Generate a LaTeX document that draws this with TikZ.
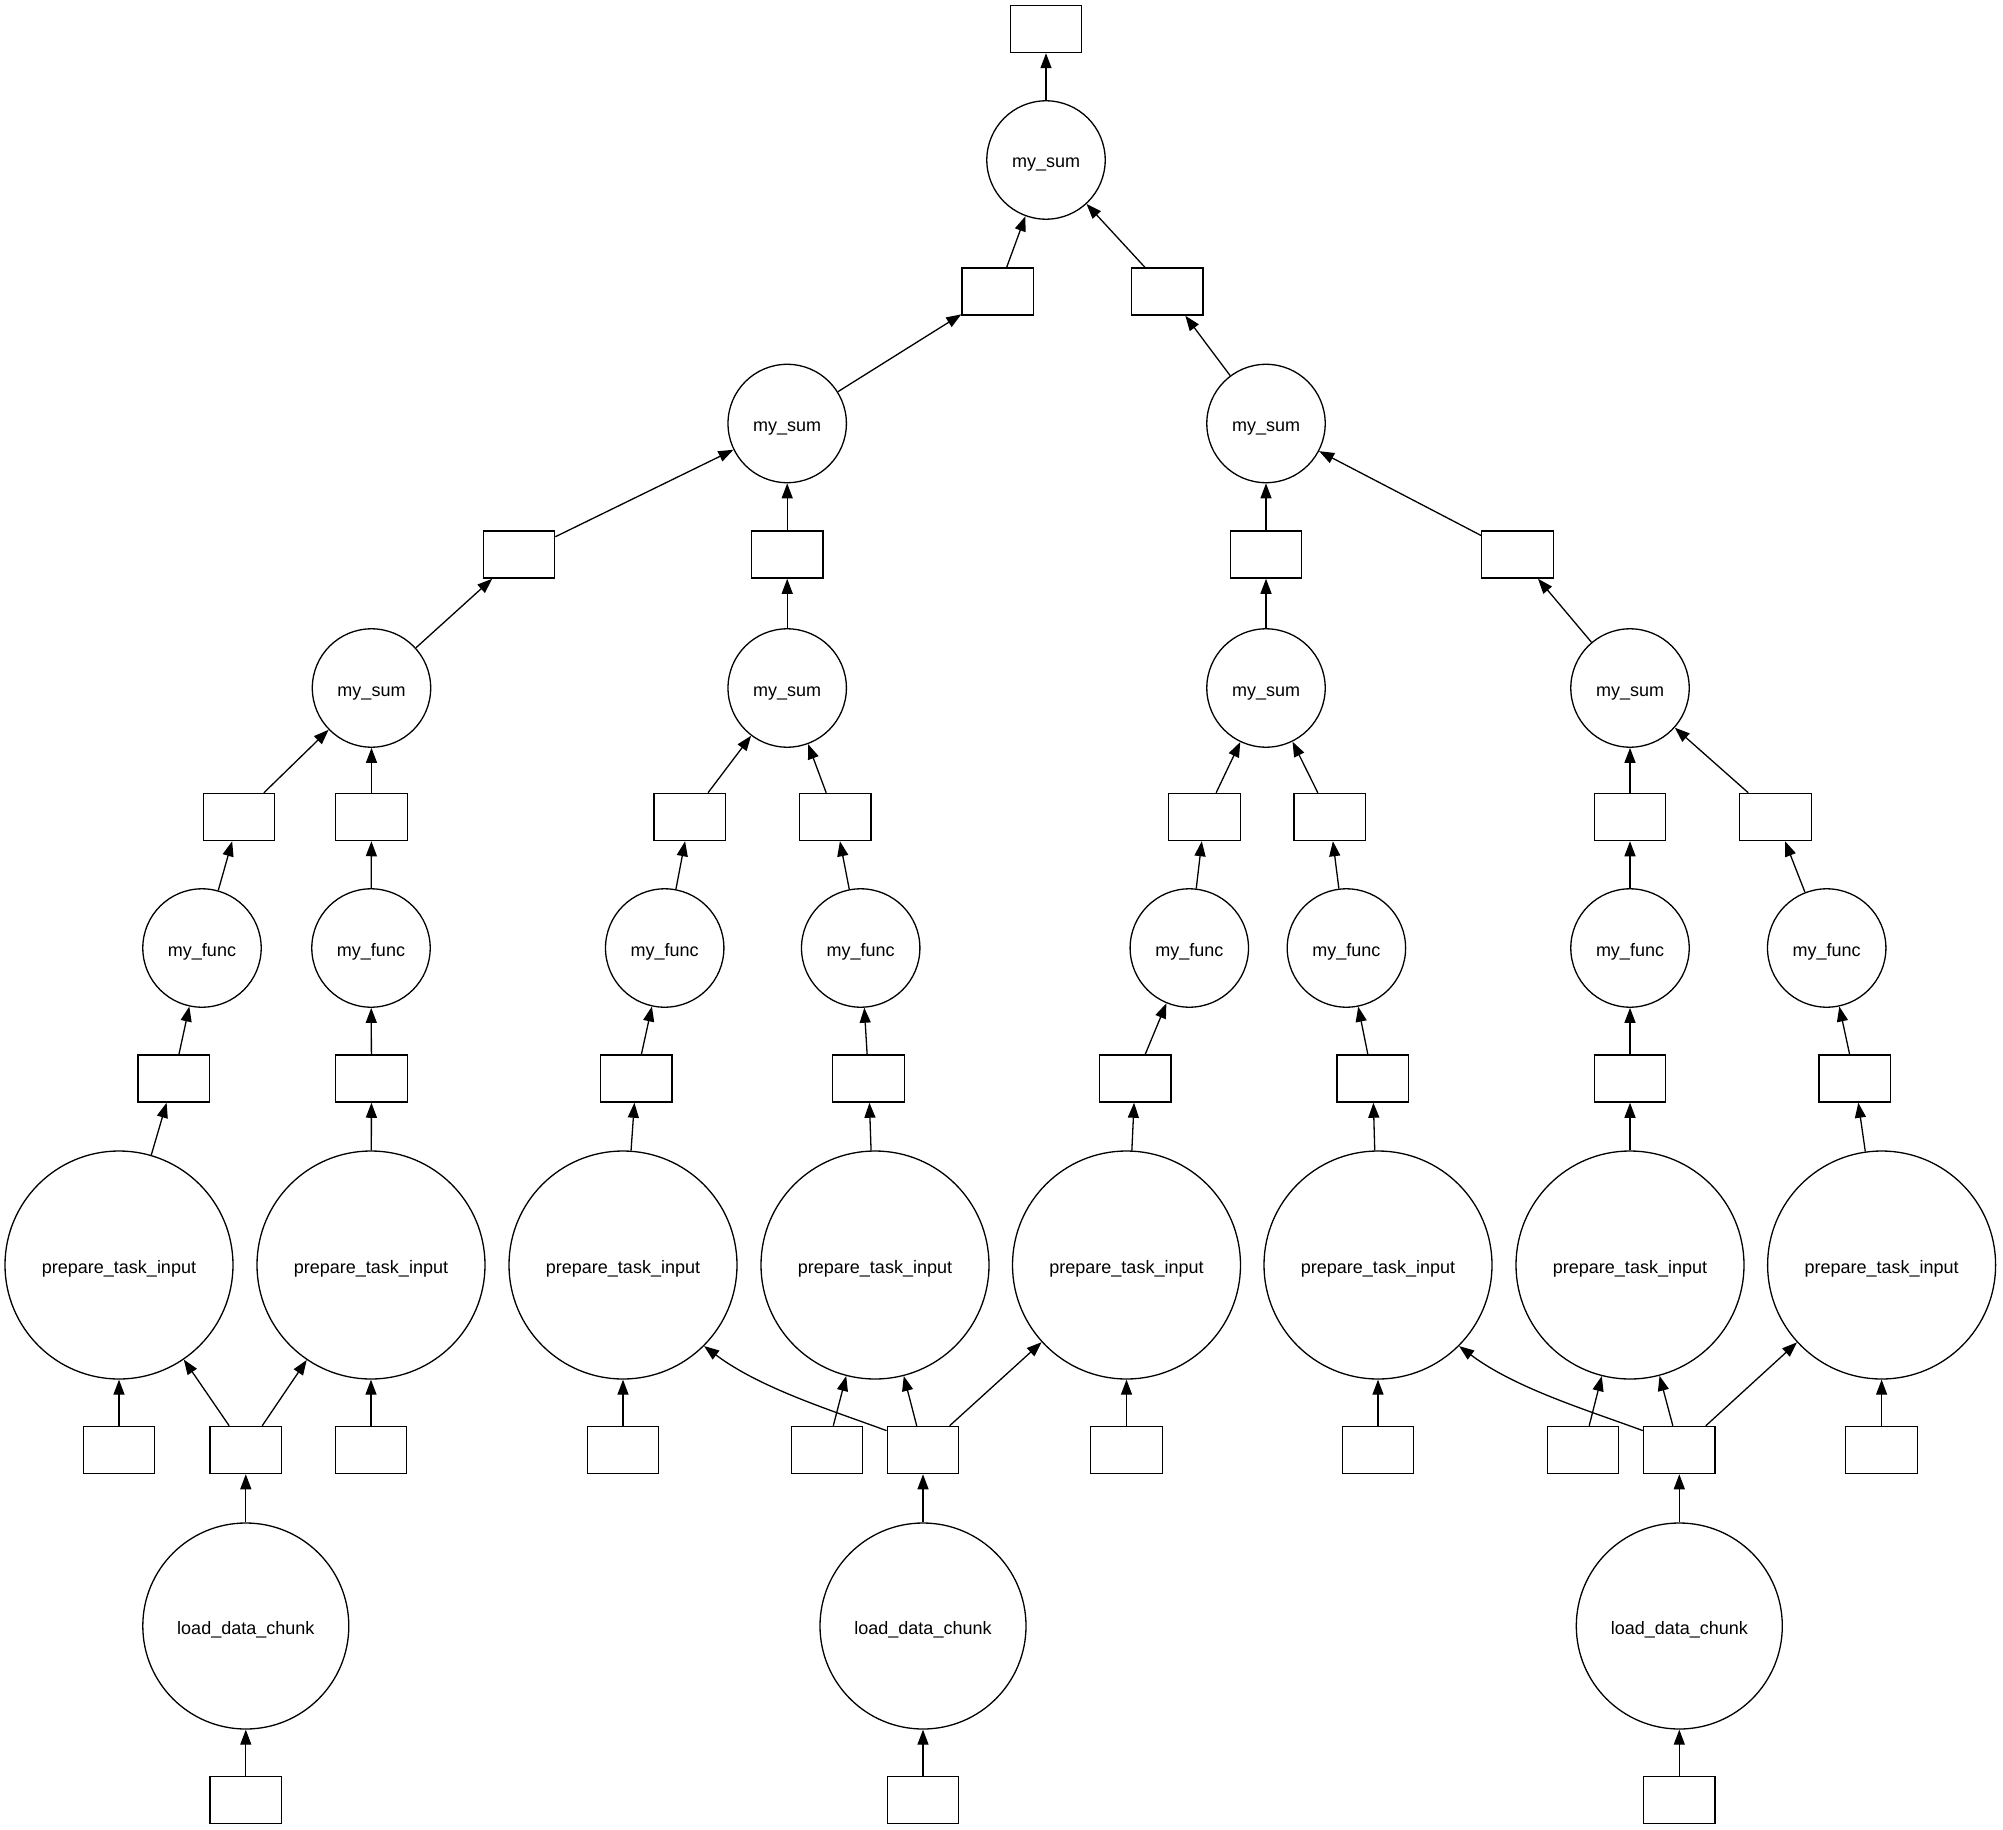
\documentclass[tikz,border=0pt]{standalone}
\usepackage{fontspec}
\setmainfont{Liberation Sans}
\usetikzlibrary{arrows.meta}
\begin{document}
\begin{tikzpicture}[x=0.5pt,y=-0.5pt,
  box/.style={draw,line width=0.65pt,minimum width=35.8pt,minimum height=23.6pt,inner sep=0pt},
  fn/.style={draw,circle,line width=0.65pt,minimum size=59.2pt,inner sep=0pt,text height=8pt,text depth=0pt,font=\fontsize{9}{11}\selectfont},
  big/.style={fn,minimum size=114pt},
  ld/.style={fn,minimum size=103pt},
  edge/.style={-{Triangle[length=7.5pt,width=5.5pt]},line width=0.65pt}]
\useasboundingbox (0,0) rectangle (2003,1830);
% top
\node[box] (top) at (1046,29) {};
\node[fn] (U) at (1046,160) {my\_sum};
\node[box] (H0) at (997.8,291.5) {};
\node[box] (H1) at (1167.2,291.5) {};
\node[fn] (T0) at (787.2,423.5) {my\_sum};
\node[fn] (T1) at (1266,423.5) {my\_sum};
\node[box] (G0) at (519,554.5) {};
\node[box] (G1) at (787.2,554.5) {};
\node[box] (G2) at (1266,554.5) {};
\node[box] (G3) at (1517.6,554.5) {};
\node[fn] (S0) at (371.5,688) {my\_sum};
\node[fn] (S1) at (787.2,688) {my\_sum};
\node[fn] (S2) at (1266,688) {my\_sum};
\node[fn] (S3) at (1630,688) {my\_sum};
% boxes row E
\node[box] (E0) at (239,817) {};
\node[box] (E1) at (371.5,817) {};
\node[box] (E2) at (689.7,817) {};
\node[box] (E3) at (835.2,817) {};
\node[box] (E4) at (1204.6,817) {};
\node[box] (E5) at (1329.8,817) {};
\node[box] (E6) at (1630,817) {};
\node[box] (E7) at (1775.6,817) {};
% my_func
\node[fn] (F0) at (202,948) {my\_func};
\node[fn] (F1) at (371,948) {my\_func};
\node[fn] (F2) at (664.7,948) {my\_func};
\node[fn] (F3) at (860.7,948) {my\_func};
\node[fn] (F4) at (1189.3,948) {my\_func};
\node[fn] (F5) at (1346.4,948) {my\_func};
\node[fn] (F6) at (1630,948) {my\_func};
\node[fn] (F7) at (1826.7,948) {my\_func};
% boxes row C
\node[box] (C0) at (173.7,1078.5) {};
\node[box] (C1) at (371.5,1078.5) {};
\node[box] (C2) at (636.1,1078.5) {};
\node[box] (C3) at (868.6,1078.5) {};
\node[box] (C4) at (1135.2,1078.5) {};
\node[box] (C5) at (1372.7,1078.5) {};
\node[box] (C6) at (1630,1078.5) {};
\node[box] (C7) at (1854.8,1078.5) {};
% prepare_task_input
\node[big] (P0) at (119,1265) {prepare\_task\_input};
\node[big] (P1) at (371,1265) {prepare\_task\_input};
\node[big] (P2) at (623,1265) {prepare\_task\_input};
\node[big] (P3) at (875,1265) {prepare\_task\_input};
\node[big] (P4) at (1126.5,1265) {prepare\_task\_input};
\node[big] (P5) at (1378,1265) {prepare\_task\_input};
\node[big] (P6) at (1630,1265) {prepare\_task\_input};
\node[big] (P7) at (1881.6,1265) {prepare\_task\_input};
% boxes row A / D
\node[box] (A0) at (119,1450) {};
\node[box] (D0) at (245.8,1450) {};
\node[box] (A1) at (371,1450) {};
\node[box] (A2) at (623,1450) {};
\node[box] (A3) at (827,1450) {};
\node[box] (D1) at (923,1450) {};
\node[box] (A4) at (1126.5,1450) {};
\node[box] (A5) at (1378,1450) {};
\node[box] (A6) at (1583,1450) {};
\node[box] (D2) at (1679.3,1450) {};
\node[box] (A7) at (1881.6,1450) {};
% load_data_chunk
\node[ld] (L0) at (245.8,1626) {load\_data\_chunk};
\node[ld] (L1) at (923,1626) {load\_data\_chunk};
\node[ld] (L2) at (1679.3,1626) {load\_data\_chunk};
\node[box] (B0) at (245.8,1800) {};
\node[box] (B1) at (923,1800) {};
\node[box] (B2) at (1679.3,1800) {};
% edges bottom
\draw[edge] (B0) -- (L0);
\draw[edge] (B1) -- (L1);
\draw[edge] (B2) -- (L2);
\draw[edge] (L0) -- (D0);
\draw[edge] (L1) -- (D1);
\draw[edge] (L2) -- (D2);
\draw[edge] (A0) -- (P0);
\draw[edge] (D0) -- (P0);
\draw[edge] (D0) -- (P1);
\draw[edge] (A1) -- (P1);
\draw[edge] (A2) -- (P2);
\draw[edge] (D1.152) .. controls +(-57,-21) and +(56,42) .. (P2.-45);
\draw[edge] (A3) -- (P3);
\draw[edge] (D1) -- (P3);
\draw[edge] (D1) -- (P4);
\draw[edge] (A4) -- (P4);
\draw[edge] (A5) -- (P5);
\draw[edge] (D2.152) .. controls +(-57,-21) and +(56,42) .. (P5.-45);
\draw[edge] (A6) -- (P6);
\draw[edge] (D2) -- (P6);
\draw[edge] (D2) -- (P7);
\draw[edge] (A7) -- (P7);
% middle chains
\foreach \i in {0,...,7}{
  \draw[edge] (P\i) -- (C\i);
  \draw[edge] (C\i) -- (F\i);
  \draw[edge] (F\i) -- (E\i);
}
\draw[edge] (E0) -- (S0);
\draw[edge] (E1) -- (S0);
\draw[edge] (E2) -- (S1);
\draw[edge] (E3) -- (S1);
\draw[edge] (E4) -- (S2);
\draw[edge] (E5) -- (S2);
\draw[edge] (E6) -- (S3);
\draw[edge] (E7) -- (S3);
\draw[edge] (S0) -- (G0);
\draw[edge] (S1) -- (G1);
\draw[edge] (S2) -- (G2);
\draw[edge] (S3) -- (G3);
\draw[edge] (G0) -- (T0);
\draw[edge] (G1) -- (T0);
\draw[edge] (G2) -- (T1);
\draw[edge] (G3) -- (T1);
\draw[edge] (T0) -- (H0);
\draw[edge] (T1) -- (H1);
\draw[edge] (H0) -- (U);
\draw[edge] (H1) -- (U);
\draw[edge] (U) -- (top);
\end{tikzpicture}
\end{document}
